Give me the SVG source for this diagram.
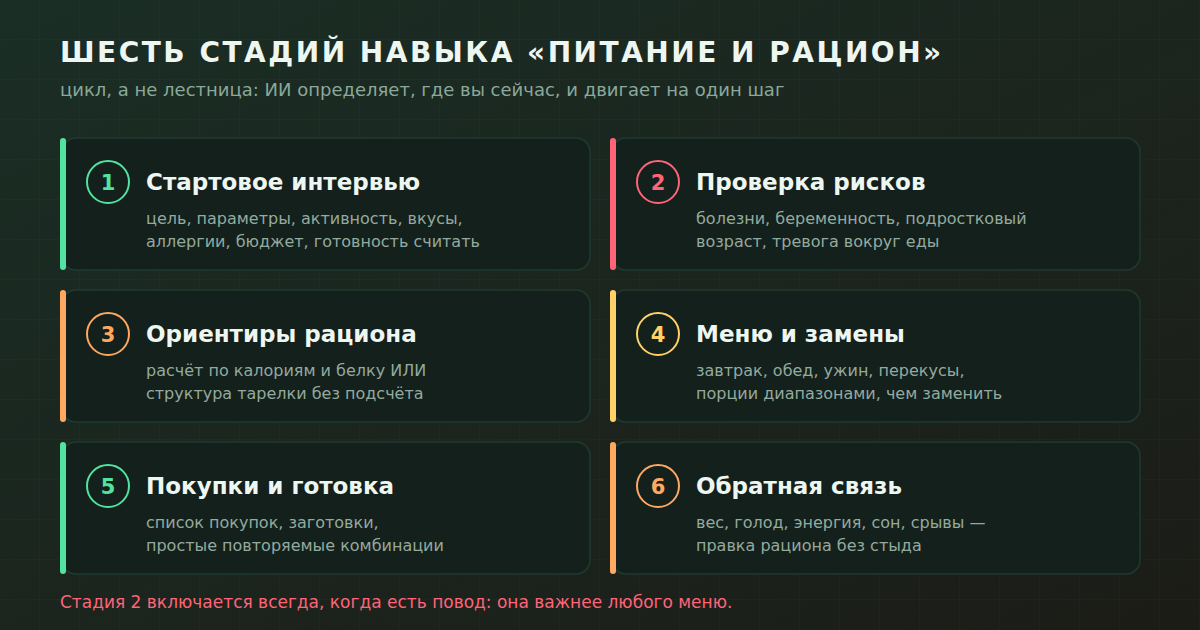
<svg xmlns="http://www.w3.org/2000/svg" width="1200" height="630" viewBox="0 0 1200 630">
<defs>
<linearGradient id="bg" x1="0" y1="0" x2="1" y2="1">
<stop offset="0" stop-color="#1a2e25"/>
<stop offset="1" stop-color="#1c1c17"/>
</linearGradient>
<pattern id="grid" width="40" height="40" patternUnits="userSpaceOnUse">
<path d="M40 0V40M0 40H40" fill="none" stroke="#ffffff" stroke-opacity="0.035" stroke-width="1"/>
</pattern>
<style>
.card{fill:#13201c;stroke:#1f3a2e;stroke-width:1.5}
.ttl{font-family:"DejaVu Sans",sans-serif;font-weight:bold;font-size:23px;fill:#eef6f1}
.dsc{font-family:"DejaVu Sans",sans-serif;font-size:16px;fill:#93aa9e}
.num{font-family:"DejaVu Sans",sans-serif;font-weight:bold;font-size:21px;text-anchor:middle}
.ring{fill:none;stroke-width:2}
</style>
</defs>
<rect width="1200" height="630" fill="url(#bg)"/>
<rect width="1200" height="630" fill="url(#grid)"/>
<text x="60" y="62" font-family="DejaVu Sans, sans-serif" font-weight="bold" font-size="28" letter-spacing="2.5" fill="#eef6f1">ШЕСТЬ СТАДИЙ НАВЫКА «ПИТАНИЕ И РАЦИОН»</text>
<text x="60" y="96" font-family="DejaVu Sans, sans-serif" font-size="18" fill="#8ba89a">цикл, а не лестница: ИИ определяет, где вы сейчас, и двигает на один шаг</text>

<g id="stage1">
<rect class="card" x="62" y="138" width="528" height="132" rx="14"/>
<rect x="60" y="138" width="6" height="132" rx="3" fill="#52e3a0"/>
<circle class="ring" cx="108" cy="182" r="21" stroke="#52e3a0"/>
<text class="num" x="108" y="189.5" fill="#52e3a0">1</text>
<text class="ttl" x="146" y="190">Стартовое интервью</text>
<text class="dsc" x="146" y="224">цель, параметры, активность, вкусы,</text>
<text class="dsc" x="146" y="247">аллергии, бюджет, готовность считать</text>
</g>
<g id="stage2">
<rect class="card" x="612" y="138" width="528" height="132" rx="14"/>
<rect x="610" y="138" width="6" height="132" rx="3" fill="#ff6478"/>
<circle class="ring" cx="658" cy="182" r="21" stroke="#ff6478"/>
<text class="num" x="658" y="189.5" fill="#ff6478">2</text>
<text class="ttl" x="696" y="190">Проверка рисков</text>
<text class="dsc" x="696" y="224">болезни, беременность, подростковый</text>
<text class="dsc" x="696" y="247">возраст, тревога вокруг еды</text>
</g>
<g id="stage3">
<rect class="card" x="62" y="290" width="528" height="132" rx="14"/>
<rect x="60" y="290" width="6" height="132" rx="3" fill="#ffa860"/>
<circle class="ring" cx="108" cy="334" r="21" stroke="#ffa860"/>
<text class="num" x="108" y="341.5" fill="#ffa860">3</text>
<text class="ttl" x="146" y="342">Ориентиры рациона</text>
<text class="dsc" x="146" y="376">расчёт по калориям и белку ИЛИ</text>
<text class="dsc" x="146" y="399">структура тарелки без подсчёта</text>
</g>
<g id="stage4">
<rect class="card" x="612" y="290" width="528" height="132" rx="14"/>
<rect x="610" y="290" width="6" height="132" rx="3" fill="#ffd166"/>
<circle class="ring" cx="658" cy="334" r="21" stroke="#ffd166"/>
<text class="num" x="658" y="341.5" fill="#ffd166">4</text>
<text class="ttl" x="696" y="342">Меню и замены</text>
<text class="dsc" x="696" y="376">завтрак, обед, ужин, перекусы,</text>
<text class="dsc" x="696" y="399">порции диапазонами, чем заменить</text>
</g>
<g id="stage5">
<rect class="card" x="62" y="442" width="528" height="132" rx="14"/>
<rect x="60" y="442" width="6" height="132" rx="3" fill="#52e3a0"/>
<circle class="ring" cx="108" cy="486" r="21" stroke="#52e3a0"/>
<text class="num" x="108" y="493.5" fill="#52e3a0">5</text>
<text class="ttl" x="146" y="494">Покупки и готовка</text>
<text class="dsc" x="146" y="528">список покупок, заготовки,</text>
<text class="dsc" x="146" y="551">простые повторяемые комбинации</text>
</g>
<g id="stage6">
<rect class="card" x="612" y="442" width="528" height="132" rx="14"/>
<rect x="610" y="442" width="6" height="132" rx="3" fill="#ffa860"/>
<circle class="ring" cx="658" cy="486" r="21" stroke="#ffa860"/>
<text class="num" x="658" y="493.5" fill="#ffa860">6</text>
<text class="ttl" x="696" y="494">Обратная связь</text>
<text class="dsc" x="696" y="528">вес, голод, энергия, сон, срывы —</text>
<text class="dsc" x="696" y="551">правка рациона без стыда</text>
</g>
<g id="connectors"/>
<text x="60" y="608" font-family="DejaVu Sans, sans-serif" font-size="17" fill="#ff6478">Стадия 2 включается всегда, когда есть повод: она важнее любого меню.</text>
</svg>
